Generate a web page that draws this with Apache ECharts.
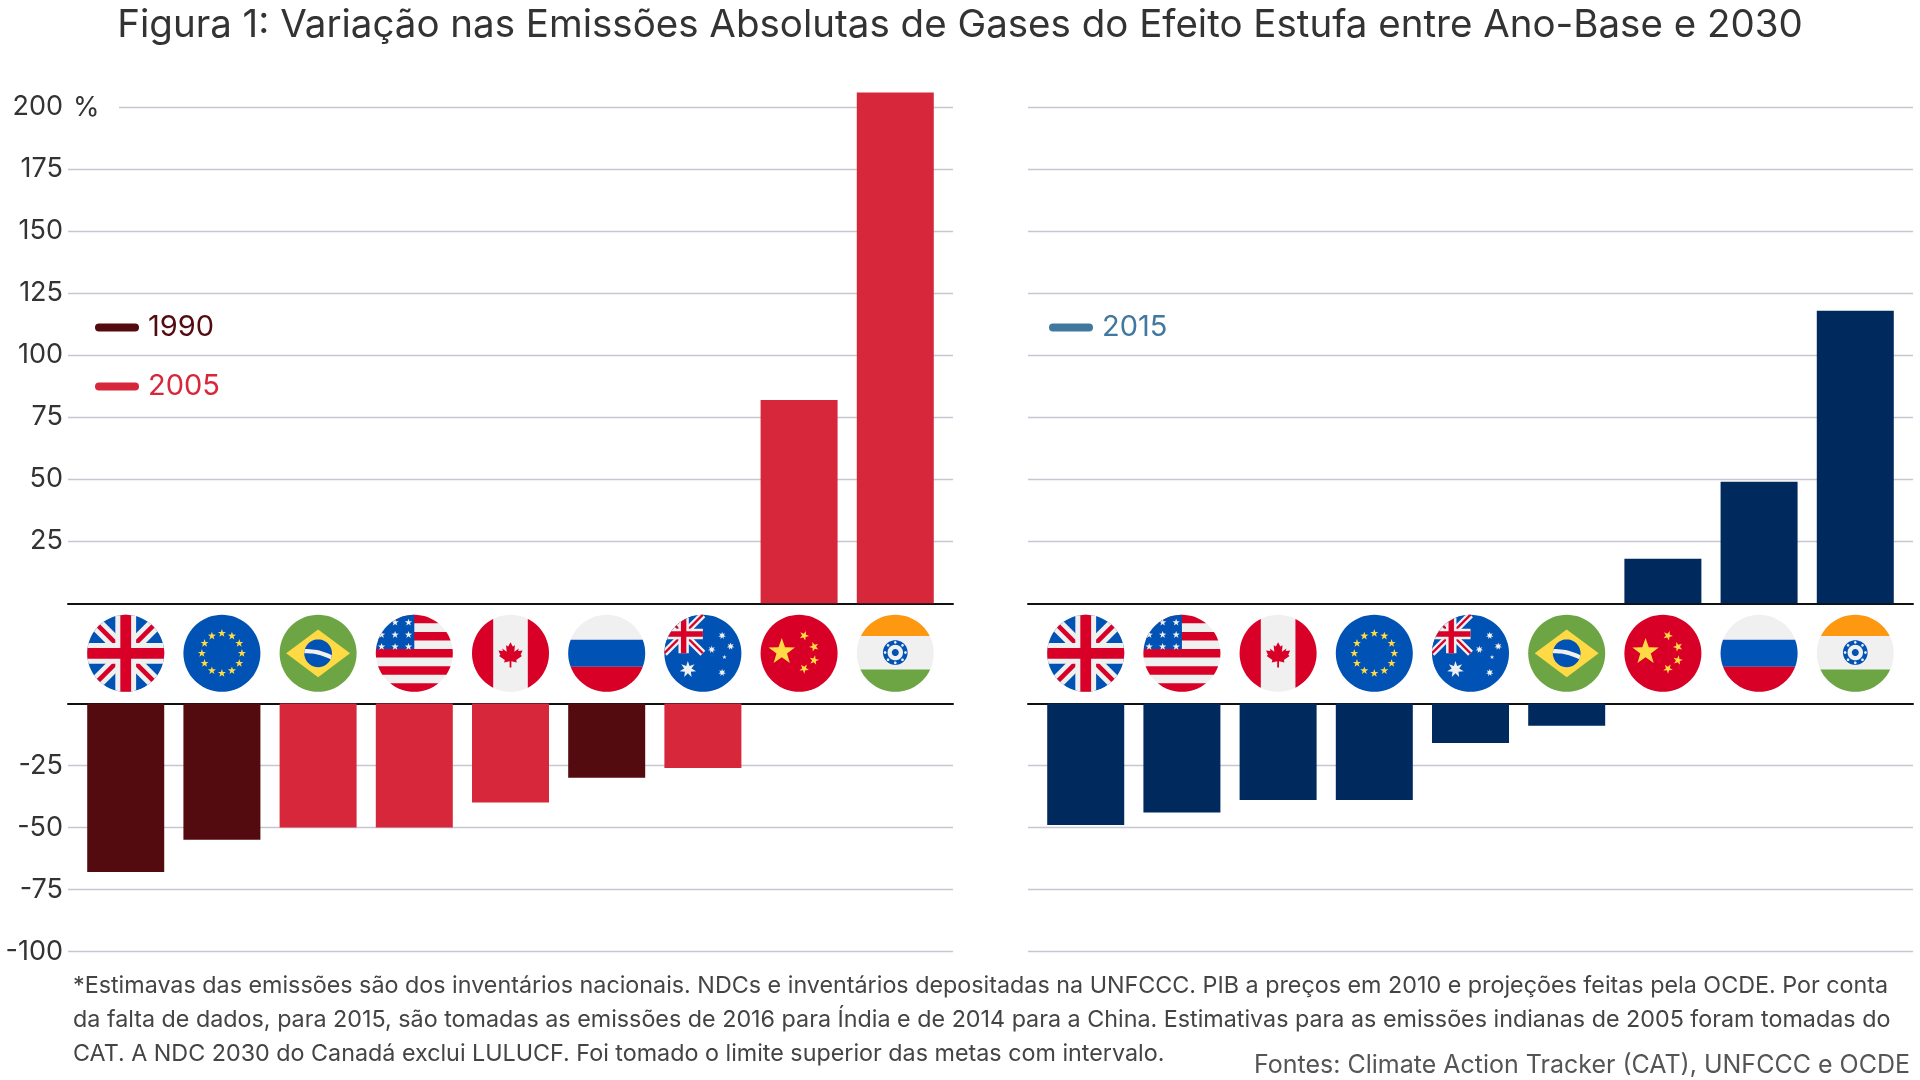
<!DOCTYPE html>
<html>
<head>
<meta charset="utf-8">
<title>Figura 1</title>
<script src="https://cdn.jsdelivr.net/npm/echarts@6/dist/echarts.min.js"></script>
<style>
html, body { margin: 0; padding: 0; background: #fff; }
#main { width: 1920px; height: 1080px; }
</style>
</head>
<body>
<div id="main"></div>
<script>
// países (ordem de cada painel) e variações em % entre ano-base e 2030
var flagsEsq = ['GB', 'EU', 'BR', 'US', 'CA', 'RU', 'AU', 'CN', 'IN'];
var base1990 = [-68, -55, null, null, null, -30, null, null, null];
var base2005Neg = [null, null, -50, -50, -40, null, -26, null, null];
var base2005Pos = [null, null, null, null, null, null, null, 82, 206];

var flagsDir = ['GB', 'US', 'CA', 'EU', 'AU', 'BR', 'CN', 'RU', 'IN'];
var base2015Neg = [-49, -44, -39, -39, -16, -9, null, null, null];
var base2015Pos = [null, null, null, null, null, null, 18, 49, 118];

var legendaEsq = ['1990', '2005'];
var legendaDir = ['2015'];

var titulo = 'Figura 1: Variação nas Emissões Absolutas de Gases do Efeito Estufa entre Ano-Base e 2030';
var nota = '*Estimavas das emissões são dos inventários nacionais. NDCs e inventários depositadas na UNFCCC. PIB a preços em 2010 e projeções feitas pela OCDE. Por conta\n' +
  'da falta de dados, para 2015, são tomadas as emissões de 2016 para Índia e de 2014 para a China. Estimativas para as emissões indianas de 2005 foram tomadas do\n' +
  'CAT. A NDC 2030 do Canadá exclui LULUCF. Foi tomado o limite superior das metas com intervalo.';
var fontes = 'Fontes: Climate Action Tracker (CAT), UNFCCC e OCDE';

var COR_1990 = '#530b10';
var COR_2005 = '#d7283b';
var COR_2015 = '#002a5e';
var COR_LEG_2015 = '#41789f';
var COR_GRADE = '#c5c7d2';
var FONTE = 'Inter, "Noto Sans", sans-serif';

// ---- bandeiras redondas (desenho simplificado) ----
var FC = { blue: '#0052b4', red: '#d80027', white: '#f0f0f0', yellow: '#ffda44', green: '#6da544', orange: '#ff9811' };

function rect(x1, y1, x2, y2) { return [[x1, y1], [x2, y1], [x2, y2], [x1, y2]]; }
function band(x1, y1, x2, y2, w) {
  var dx = x2 - x1, dy = y2 - y1, L = Math.sqrt(dx * dx + dy * dy);
  var nx = -dy / L * w / 2, ny = dx / L * w / 2;
  return [[x1 + nx, y1 + ny], [x2 + nx, y2 + ny], [x2 - nx, y2 - ny], [x1 - nx, y1 - ny]];
}
function circ(cx, cy, r, n) {
  n = n || 48;
  var p = [];
  for (var k = 0; k < n; k++) {
    var a = 2 * Math.PI * k / n;
    p.push([cx + r * Math.cos(a), cy + r * Math.sin(a)]);
  }
  return p;
}
function star(cx, cy, R, n, rot) {
  n = n || 5;
  var r = R * (n === 5 ? 0.4 : 0.45), p = [];
  for (var k = 0; k < 2 * n; k++) {
    var a = -Math.PI / 2 + (rot || 0) + Math.PI * k / n;
    var rr = k % 2 ? r : R;
    p.push([cx + rr * Math.cos(a), cy + rr * Math.sin(a)]);
  }
  return p;
}
function arcBand(cx, cy, r1, r2, a1, a2) {
  var p = [], n = 30, k;
  for (k = 0; k <= n; k++) { var a = a1 + (a2 - a1) * k / n; p.push([cx + r1 * Math.cos(a), cy + r1 * Math.sin(a)]); }
  for (k = n; k >= 0; k--) { var b = a1 + (a2 - a1) * k / n; p.push([cx + r2 * Math.cos(b), cy + r2 * Math.sin(b)]); }
  return p;
}
// Sutherland-Hodgman contra polígono convexo
function clipPoly(subj, clip) {
  var out = subj;
  for (var i = 0; i < clip.length && out.length; i++) {
    var a = clip[i], b = clip[(i + 1) % clip.length];
    var dx = b[0] - a[0], dy = b[1] - a[1];
    var side = function (p) { return dx * (p[1] - a[1]) - dy * (p[0] - a[0]); };
    var inp = out; out = [];
    for (var j = 0; j < inp.length; j++) {
      var cur = inp[j], prev = inp[(j + inp.length - 1) % inp.length];
      var sc = side(cur), sp = side(prev);
      if (sc >= 0) {
        if (sp < 0) { var t = sp / (sp - sc); out.push([prev[0] + t * (cur[0] - prev[0]), prev[1] + t * (cur[1] - prev[1])]); }
        out.push(cur);
      } else if (sp >= 0) {
        var t2 = sp / (sp - sc); out.push([prev[0] + t2 * (cur[0] - prev[0]), prev[1] + t2 * (cur[1] - prev[1])]);
      }
    }
  }
  return out;
}
var UNIT = circ(0, 0, 1, 72);

function ukParts(cx, cy, s) {
  function T(poly) { return poly.map(function (q) { return [cx + q[0] * s, cy + q[1] * s]; }); }
  return [
    [T(rect(-1, -1, 1, 1)), FC.blue],
    [T(band(-1, -1, 1, 1, 0.36)), FC.white],
    [T(band(-1, 1, 1, -1, 0.36)), FC.white],
    [T(band(-1, -1, 1, 1, 0.12)), FC.red],
    [T(band(-1, 1, 1, -1, 0.12)), FC.red],
    [T(rect(-0.27, -1, 0.27, 1)), FC.white],
    [T(rect(-1, -0.27, 1, 0.27)), FC.white],
    [T(rect(-0.14, -1, 0.14, 1)), FC.red],
    [T(rect(-1, -0.14, 1, 0.14)), FC.red]
  ];
}

var FLAGS = {
  GB: function () { return ukParts(0, 0, 1); },
  EU: function () {
    var p = [[rect(-1, -1, 1, 1), FC.blue]];
    for (var k = 0; k < 12; k++) {
      var a = 2 * Math.PI * k / 12;
      p.push([star(0.52 * Math.cos(a), 0.52 * Math.sin(a), 0.11), FC.yellow]);
    }
    return p;
  },
  BR: function () {
    var disc = circ(0, 0, 0.36, 40);
    return [
      [rect(-1, -1, 1, 1), FC.green],
      [[[-0.83, 0], [0, -0.62], [0.83, 0], [0, 0.62]], FC.yellow],
      [disc, FC.blue],
      [clipPoly(arcBand(-0.3, 1.3, 1.41, 1.3, -2.2, -0.9), disc), FC.white]
    ];
  },
  US: function () {
    var p = [[rect(-1, -1, 1, 1), FC.white]];
    var h = 2 / 9;
    for (var k = 0; k < 9; k += 2) p.push([rect(-1, -1 + k * h, 1, -1 + (k + 1) * h), FC.red]);
    p.push([rect(-1, -1, 0, -1 + 4 * h), FC.blue]);
    [[-0.85, -0.8], [-0.5, -0.8], [-0.15, -0.8], [-0.85, -0.48], [-0.5, -0.48], [-0.15, -0.48], [-0.85, -0.17], [-0.5, -0.17], [-0.15, -0.17]].forEach(function (s) {
      p.push([star(s[0], s[1], 0.1), FC.white]);
    });
    return p;
  },
  CA: function () {
    var leaf = [[0, -1], [0.18, -0.65], [0.35, -0.75], [0.3, -0.25], [0.65, -0.5], [0.6, -0.3], [0.95, -0.35], [0.8, 0], [0.9, 0.1],
      [0.45, 0.4], [0.5, 0.6], [0.07, 0.5], [0.07, 1], [-0.07, 1], [-0.07, 0.5], [-0.5, 0.6], [-0.45, 0.4], [-0.9, 0.1], [-0.8, 0],
      [-0.95, -0.35], [-0.6, -0.3], [-0.65, -0.5], [-0.3, -0.25], [-0.35, -0.75], [-0.18, -0.65]];
    return [
      [rect(-1, -1, 1, 1), FC.white],
      [rect(-1, -1, -0.45, 1), FC.red],
      [rect(0.45, -1, 1, 1), FC.red],
      [leaf.map(function (q) { return [q[0] * 0.33, q[1] * 0.33 + 0.04]; }), FC.red]
    ];
  },
  RU: function () {
    return [
      [rect(-1, -1, 1, 1), FC.white],
      [rect(-1, -0.35, 1, 0.35), FC.blue],
      [rect(-1, 0.35, 1, 1), FC.red]
    ];
  },
  AU: function () {
    var p = [[rect(-1, -1, 1, 1), FC.blue]];
    p = p.concat(ukParts(-0.5, -0.5, 0.5));
    p.push([star(-0.39, 0.42, 0.22, 7), FC.white]);
    p.push([star(0.5, -0.46, 0.1, 7), FC.white]);
    p.push([star(0.72, -0.18, 0.1, 7), FC.white]);
    p.push([star(0.23, -0.1, 0.1, 7), FC.white]);
    p.push([star(0.56, 0.1, 0.06, 5), FC.white]);
    p.push([star(0.5, 0.5, 0.1, 7), FC.white]);
    return p;
  },
  CN: function () {
    return [
      [rect(-1, -1, 1, 1), FC.red],
      [star(-0.45, -0.04, 0.36), FC.yellow],
      [star(0.13, -0.46, 0.13, 5, 0.4), FC.yellow],
      [star(0.39, -0.17, 0.13, 5, 0.9), FC.yellow],
      [star(0.39, 0.18, 0.13, 5, 0.2), FC.yellow],
      [star(0.13, 0.4, 0.13, 5, 0.6), FC.yellow]
    ];
  },
  IN: function () {
    var p = [
      [rect(-1, -1, 1, 1), FC.white],
      [rect(-1, -1, 1, -0.45), FC.orange],
      [rect(-1, 0.42, 1, 1), FC.green],
      [circ(0, -0.02, 0.32), FC.blue],
      [circ(0, -0.02, 0.2), FC.white],
      [circ(0, -0.02, 0.09), FC.blue]
    ];
    for (var k = 0; k < 8; k++) {
      var a = 2 * Math.PI * k / 8;
      p.push([circ(0.265 * Math.cos(a), -0.02 + 0.265 * Math.sin(a), 0.035, 12), FC.white]);
    }
    return p;
  }
};

var FLAG_R = 38.5;
var FLAG_DY = 50;

function flagSeries(codes, axisIdx) {
  return {
    type: 'custom',
    xAxisIndex: axisIdx,
    yAxisIndex: axisIdx,
    clip: false,
    silent: true,
    z: 5,
    data: codes.map(function (c, i) { return [i, 0]; }),
    renderItem: function (params, api) {
      var p = api.coord([api.value(0), 0]);
      var cx = p[0], cy = p[1] + FLAG_DY;
      var parts = FLAGS[codes[params.dataIndex]]();
      var children = [];
      parts.forEach(function (pt) {
        var poly = clipPoly(pt[0], UNIT);
        if (poly.length < 3) return;
        children.push({
          type: 'polygon',
          shape: { points: poly.map(function (q) { return [cx + q[0] * FLAG_R, cy + q[1] * FLAG_R]; }) },
          style: { fill: pt[1] }
        });
      });
      return { type: 'group', children: children };
    }
  };
}

function pares(arr) {
  var out = [];
  arr.forEach(function (v, i) { if (v !== null) out.push([i, v]); });
  return out;
}

function barSeries(name, arr, axisIdx, color) {
  return {
    name: name,
    type: 'bar',
    xAxisIndex: axisIdx,
    yAxisIndex: axisIdx,
    data: pares(arr),
    barWidth: 77,
    barGap: '-100%',
    clip: false,
    itemStyle: { color: color },
    emphasis: { disabled: true }
  };
}

var grids = [
  { left: 68, right: 967, top: 107.3, height: 496 },
  { left: 68, right: 967, top: 703.4, height: 248 },
  { left: 1028, right: 7, top: 107.3, height: 496 },
  { left: 1028, right: 7, top: 703.4, height: 248 }
];

function xAxisFor(i) {
  return {
    type: 'value', gridIndex: i, min: -0.6, max: 8.6,
    position: (i % 2 === 0) ? 'bottom' : 'top',
    axisLine: { show: true, onZero: false, lineStyle: { color: '#111', width: 2 } },
    axisTick: { show: false }, axisLabel: { show: false }, splitLine: { show: false }
  };
}

function yAxisFor(i) {
  var top = (i % 2 === 0);
  return {
    type: 'value', gridIndex: i,
    min: top ? 0 : -100, max: top ? 200 : 0, interval: 25,
    axisLine: { show: false }, axisTick: { show: false },
    axisLabel: {
      show: i < 2, color: '#333', fontSize: 27, fontFamily: FONTE, margin: 5,
      showMinLabel: !top, showMaxLabel: top
    },
    splitLine: {
      show: true, showMinLine: !top, showMaxLine: top,
      lineStyle: { color: COR_GRADE, width: 1.3 }
    }
  };
}

var legendIcon = 'path://M4,0 H40 A4,4 0 0 1 40,8 H4 A4,4 0 0 1 4,0 Z';

var chart = echarts.init(document.getElementById('main'), null, { renderer: 'canvas' });
var option = {
  backgroundColor: '#fff',
  animation: false,
  title: {
    text: titulo, left: 'center', top: 1,
    textStyle: { fontFamily: FONTE, fontSize: 38.5, fontWeight: 'normal', color: '#333' }
  },
  legend: [
    {
      data: [
        { name: legendaEsq[0], textStyle: { color: COR_1990 }, itemStyle: { color: COR_1990 } },
        { name: legendaEsq[1], textStyle: { color: COR_2005 }, itemStyle: { color: COR_2005 } }
      ],
      orient: 'vertical', left: 90, top: 308, icon: legendIcon,
      itemWidth: 44, itemHeight: 8, itemGap: 30, selectedMode: false,
      textStyle: { fontFamily: FONTE, fontSize: 29, padding: [0, 0, 0, 4] }
    },
    {
      data: [{ name: legendaDir[0], textStyle: { color: COR_LEG_2015 }, itemStyle: { color: COR_LEG_2015 } }],
      orient: 'vertical', left: 1044, top: 308, icon: legendIcon,
      itemWidth: 44, itemHeight: 8, selectedMode: false,
      textStyle: { fontFamily: FONTE, fontSize: 29, padding: [0, 0, 0, 4] }
    }
  ],
  grid: grids,
  xAxis: [0, 1, 2, 3].map(xAxisFor),
  yAxis: [0, 1, 2, 3].map(yAxisFor),
  series: [
    barSeries('2005', base2005Pos, 0, COR_2005),
    barSeries('1990', base1990, 1, COR_1990),
    barSeries('2005', base2005Neg, 1, COR_2005),
    barSeries('2015', base2015Pos, 2, COR_2015),
    barSeries('2015', base2015Neg, 3, COR_2015),
    flagSeries(flagsEsq, 0),
    flagSeries(flagsDir, 2)
  ],
  graphic: [
    { type: 'rect', x: 66, y: 100, shape: { width: 53, height: 14 }, style: { fill: '#fff' }, z: 50, silent: true },
    { type: 'text', x: 73, y: 108, z: 51, style: { text: '%', fontSize: 27, fontFamily: FONTE, fill: '#333', verticalAlign: 'middle' } },
    { type: 'text', x: 73, y: 969, style: { text: nota, fontSize: 23.3, lineHeight: 34, fontFamily: FONTE, fill: '#444', verticalAlign: 'top' } },
    { type: 'text', x: 1910, y: 1065, style: { text: fontes, fontSize: 25, fontFamily: FONTE, fill: '#555', align: 'right', verticalAlign: 'middle' } }
  ]
};
chart.setOption(option);
</script>
</body>
</html>
